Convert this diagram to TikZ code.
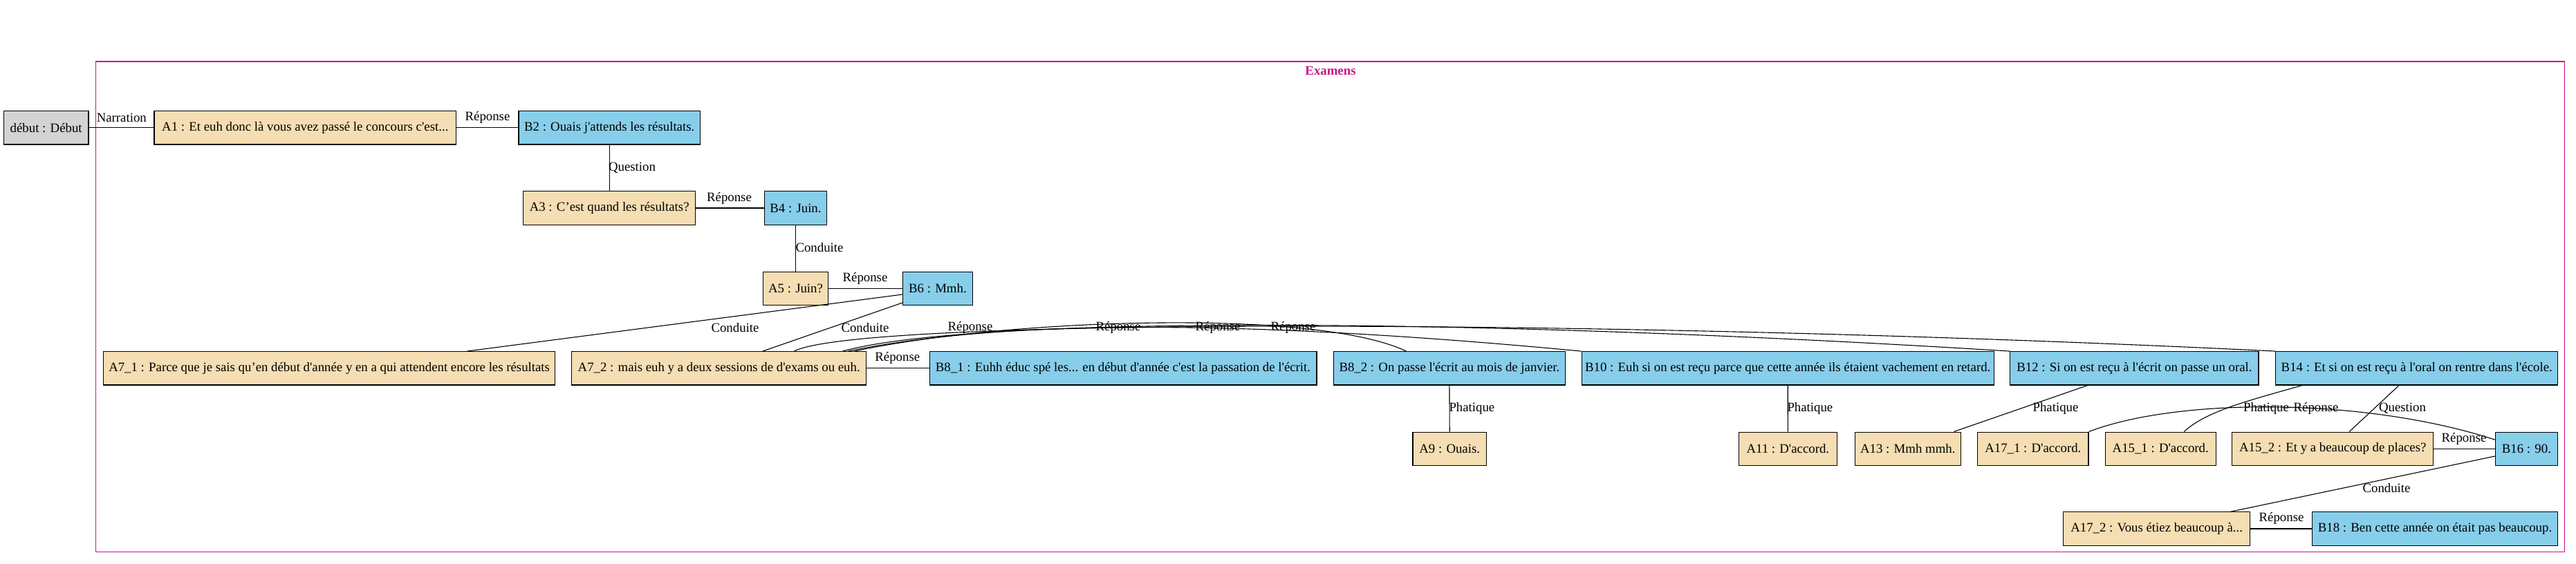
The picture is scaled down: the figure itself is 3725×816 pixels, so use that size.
\documentclass[tikz,border=0pt]{standalone}
\usepackage{fontspec}
\setmainfont{Liberation Serif}
\newcommand{\fs}{\fontsize{18.8pt}{22pt}\selectfont}
\newcommand{\sq}{\textquotesingle}
\definecolor{wheat}{HTML}{F5DEB3}
\definecolor{skyb}{HTML}{87CEEB}
\definecolor{lgrey}{HTML}{D3D3D3}
\definecolor{clus}{HTML}{C71585}
\tikzset{
  box/.style={draw=black, line width=1.1pt, minimum height=48.3pt, inner xsep=0pt, inner ysep=0pt, anchor=center, font=\fs},
  anode/.style={box, fill=wheat},
  bnode/.style={box, fill=skyb},
  gnode/.style={box, fill=lgrey},
  lbl/.style={font=\fs, inner sep=0pt, anchor=center},
  edge/.style={draw=black, line width=1.1pt},
}
\begin{document}
\begin{tikzpicture}[x=1pt,y=-1pt]
\useasboundingbox (0,0) rectangle (3725,816);
% cluster
\draw[clus, line width=1.4pt] (138.5,89) rectangle (3708.5,798.7);
\node[font=\fs\bfseries, text=clus, inner sep=0pt] (title) at (1924,102.5) {Examens};
% row 0
\node[gnode, minimum width=122.5pt] (debut) at (66.7,184.8) {début : Début};
\node[anode, minimum width=436.6pt] (A1) at (441.3,184.8) {A1 : Et euh donc là vous avez passé le concours c\sq est...};
\node[bnode, minimum width=262.5pt] (B2) at (881.2,184.8) {B2 : Ouais j\sq attends les résultats.};
% row 1
\node[anode, minimum width=249pt] (A3) at (881.2,301) {A3 : C’est quand les résultats?};
\node[bnode, minimum width=89.8pt] (B4) at (1150.5,301) {B4 : Juin.};
% row 2
\node[anode, minimum width=94pt] (A5) at (1150.5,417.3) {A5 : Juin?};
\node[bnode, minimum width=100.7pt] (B6) at (1355.9,417.3) {B6 : Mmh.};
% row 3
\node[anode, minimum width=652.4pt] (A71) at (476.1,532.8) {A7\_1 : Parce que je sais qu’en début d\sq année y en a qui attendent encore les résultats};
\node[anode, minimum width=426.4pt] (A72) at (1039.7,532.8) {A7\_2 : mais euh y a deux sessions de d\sq exams ou euh.};
\node[bnode, minimum width=559.9pt] (B81) at (1624,532.8) {B8\_1 : Euhh éduc spé les... en début d\sq année c\sq est la passation de l\sq écrit.};
\node[bnode, minimum width=334.6pt] (B82) at (2095.9,532.8) {B8\_2 : On passe l\sq écrit au mois de janvier.};
\node[bnode, minimum width=596.3pt] (B10) at (2585.2,532.8) {B10 : Euh si on est reçu parce que cette année ils étaient vachement en retard.};
\node[bnode, minimum width=359.2pt] (B12) at (3086.4,532.8) {B12 : Si on est reçu à l\sq écrit on passe un oral.};
\node[bnode, minimum width=407.7pt] (B14) at (3494.7,532.8) {B14 : Et si on est reçu à l\sq oral on rentre dans l\sq école.};
% row 4
\node[anode, minimum width=106.5pt] (A9) at (2096.2,649.2) {A9 : Ouais.};
\node[anode, minimum width=142.2pt] (A11) at (2585.3,649.2) {A11 : D\sq accord.};
\node[anode, minimum width=153.5pt] (A13) at (2758.8,649.2) {A13 : Mmh mmh.};
\node[anode, minimum width=160.4pt] (A171) at (2939.8,649.2) {A17\_1 : D\sq accord.};
\node[anode, minimum width=159.9pt] (A151) at (3124.2,649.2) {A15\_1 : D\sq accord.};
\node[anode, minimum width=290.9pt] (A152) at (3373.2,649.2) {A15\_2 : Et y a beaucoup de places?};
\node[bnode, minimum width=90.2pt] (B16) at (3653.4,649.2) {B16 : 90.};
% row 5
\node[anode, minimum width=270.2pt] (A172) at (3118.6,765) {A17\_2 : Vous étiez beaucoup à...};
\node[bnode, minimum width=355.1pt] (B18) at (3521,765) {B18 : Ben cette année on était pas beaucoup.};
% edges
\draw[edge] (debut.east) -- (A1.west);
\draw[edge] (A1.east) -- (B2.west);
\draw[edge] (B2.south) -- (A3.north);
\draw[edge] (A3.east) -- (B4.west);
\draw[edge] (B4.south) -- (A5.north);
\draw[edge] (A5.east) -- (B6.west);
\draw[edge] ([yshift=-8.7pt]B6.west) -- ([xshift=526.1pt]A71.north west);
\draw[edge] ([yshift=4pt]B6.south west) -- ([xshift=276.9pt]A72.north west);
\draw[edge] (A72.east) -- (B81.west);
\draw[edge] ([xshift=322.5pt]A72.north west) .. controls (1240,460) and (2300,460) .. (B14.north west);
\draw[edge] ([xshift=392.5pt]A72.north west) .. controls (1400,458) and (2100,458) .. (B12.north west);
\draw[edge] ([xshift=400.5pt]A72.north west) .. controls (1450,462) and (1800,462) .. (B10.north west);
\draw[edge] ([xshift=409.5pt]A72.north west) .. controls (1450,462) and (1900,445) .. ([xshift=105.4pt]B82.north west);
\draw[edge] (B82.south) -- (A9.north);
\draw[edge] (B10.south) -- (A11.north);
\draw[edge] ([xshift=112.7pt]B12.south west) -- ([xshift=-10.7pt]A13.north east);
\draw[edge] ([xshift=39pt]B14.south west) .. controls (3250,580) and (3190,595) .. ([xshift=114.5pt]A151.north west);
\draw[edge] ([xshift=178.8pt]B14.south west) -- ([xshift=170pt]A152.north west);
\draw[edge] (A171.north east) .. controls (3150,575) and (3420,575) .. ([yshift=-11.7pt]B16.north west);
\draw[edge] (A152.east) -- (B16.west);
\draw[edge] ([yshift=-10.8pt]B16.west) -- ([xshift=242.5pt]A172.north west);
\draw[edge] (A172.east) -- (B18.west);
% labels
\node[lbl] (l1) at (175.8,170) {Narration};
\node[lbl] (l2) at (705,170) {Réponse};
\node[lbl] (l3) at (914,242.7) {Question};
\node[lbl] (l4) at (1054.5,286.7) {Réponse};
\node[lbl] (l5) at (1185,358) {Conduite};
\node[lbl] (l6) at (1251,402.7) {Réponse};
\node[lbl] (l7) at (1063,474) {Conduite};
\node[lbl] (l8) at (1251,474) {Conduite};
\node[lbl] (l9) at (1403,474) {Réponse};
\node[lbl] (l10) at (1617,474) {Réponse};
\node[lbl] (l11) at (1761,474) {Réponse};
\node[lbl] (l12) at (1870,474) {Réponse};
\node[lbl] (l13) at (1297.8,518.3) {Réponse};
\node[lbl] (l14) at (2128.4,590.7) {Phatique};
\node[lbl] (l15) at (2617.4,590.7) {Phatique};
\node[lbl] (l16) at (2972.5,590.7) {Phatique};
\node[lbl] (l17) at (3277,590.7) {Phatique};
\node[lbl] (l18) at (3349,590.7) {Réponse};
\node[lbl] (l19) at (3474,590.7) {Question};
\node[lbl] (l20) at (3563,635) {Réponse};
\node[lbl] (l21) at (3451,705.7) {Conduite};
\node[lbl] (l22) at (3299,750) {Réponse};
\end{tikzpicture}
\end{document}
